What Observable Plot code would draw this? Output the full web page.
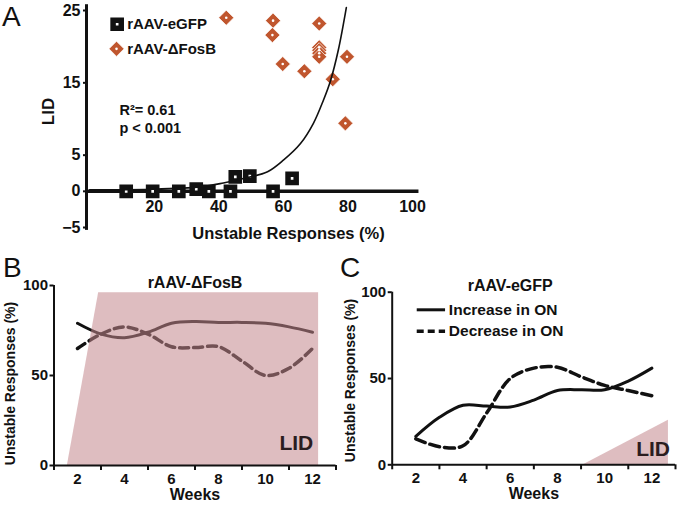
<!DOCTYPE html>
<html><head><meta charset="utf-8">
<script src="https://cdn.jsdelivr.net/npm/d3@7"></script>
<script src="https://cdn.jsdelivr.net/npm/@observablehq/plot@0.6"></script>
<style>
html,body{margin:0;padding:0;background:#fff;}
#fig{position:relative;width:677px;height:505px;overflow:hidden;font-family:"Liberation Sans",Arial,sans-serif;}
#fig svg{position:absolute;overflow:visible;}
.letter{position:absolute;font-size:28px;line-height:28px;color:#111;}
</style></head><body>
<div id="fig">
  <div class="letter" style="left:2px;top:3px">A</div>
  <div class="letter" style="left:3px;top:254px">B</div>
  <div class="letter" style="left:340px;top:254px">C</div>
</div>
<script>
// ---------- Panel A data ----------
const gfpX = [11.3, 19.5, 27.6, 33.0, 36.9, 43.6, 45.1, 49.6, 56.8, 62.7];
const gfpY = [0, 0, 0, 0.3, 0, 0, 2.0, 2.1, 0, 1.8];
const fosX = [42.3, 56.8, 56.6, 71.1, 71.1, 71.1, 71.1, 71.1, 59.8, 66.5, 75.3, 79.7, 79.2];
const fosY = [24.0, 23.6, 21.6, 23.2, 19.9, 19.5, 19.1, 18.6, 17.6, 16.6, 15.5, 18.6, 9.4];
const fitX = [0, 18.8, 34.3, 41.4, 48.9, 55.1, 60, 65.3, 69.3, 72.4, 74.6, 77, 79.5];
const fitY = [0.2, 0.28, 0.62, 1.15, 1.9, 2.7, 4.3, 6.6, 9.4, 12.6, 15.3, 19.5, 25.4];
const aXTicks = [20, 40, 60, 80, 100];
const aYTicks = [-5, 0, 5, 15, 25];
const groupNames = ["rAAV-eGFP", "rAAV-\u0394FosB"];
const statLines = ["R\u00B2= 0.61", "p < 0.001"];

// ---------- Panels B / C data ----------
const weeks = [2, 3, 4, 5, 6, 7, 8, 9, 10, 11, 12];
const evenWeeks = [2, 4, 6, 8, 10, 12];
const oddWeeks = [1, 3, 5, 7, 9, 11, 13];
const bIncrease = [79, 73, 71, 74, 79, 80, 79.5, 79.5, 79, 77, 74];
const bDecrease = [65, 73, 77, 73, 66, 65.5, 66, 58, 50, 54, 65];
const cIncrease = [16.5, 27.5, 34.5, 34, 33.5, 37.5, 43, 43.5, 43.5, 48.5, 56];
const cDecrease = [15, 10.5, 11, 30, 50, 56, 56.5, 51, 46, 43, 40];
const lidBWeeks = [1.57, 2.9, 12.26];
const lidBLevel = [0, 96, 96];
const lidCWeeks = [9.1, 12.7];
const lidCLevel = [0, 25.8];
const bcYTicks = [0, 50, 100];
const legendLabels = ["Increase in ON", "Decrease in ON"];

const FONT = '"Liberation Sans", Arial, sans-serif';
const ORANGE = "#c0562e";
const PINK = "#c3868c";
const style = {fontFamily: FONT, fontWeight: "bold", fontSize: "15px", background: "transparent", overflow: "visible", color: "#111"};

const gfp = gfpX.map((x, i) => ({x, y: gfpY[i]}));
const fos = fosX.map((x, i) => ({x, y: fosY[i]}));
const fit = fitX.map((x, i) => ({x, y: fitY[i]}));
const bRows = weeks.map((w, i) => ({week: w, inc: bIncrease[i], dec: bDecrease[i]}));
const cRows = weeks.map((w, i) => ({week: w, inc: cIncrease[i], dec: cDecrease[i]}));
const lidB = lidBWeeks.map((w, i) => ({week: w, v: lidBLevel[i]}));
const lidC = lidCWeeks.map((w, i) => ({week: w, v: lidCLevel[i]}));

const fig = document.getElementById("fig");
function place(svg, left, top) { svg.style.left = left + "px"; svg.style.top = top + "px"; fig.appendChild(svg); }
const mid = {textAnchor: "middle", lineAnchor: "middle"};

// ---------- Panel A ----------
const plotA = Plot.plot({
  width: 430, height: 245,
  marginLeft: 86, marginRight: 18, marginTop: 10, marginBottom: 18,
  x: {domain: [-1, 100], axis: null},
  y: {domain: [-5, 25]},
  style,
  marks: [
    Plot.axisY({ticks: aYTicks, tickSize: 3, tickPadding: 3, label: null, fontSize: 16, strokeWidth: 2}),
    Plot.ruleX([-1], {y1: -5.4, y2: 25.8, strokeWidth: 3, stroke: "#111"}),
    Plot.ruleY([0], {x1: -1, x2: 102, strokeWidth: 3.5, stroke: "#111"}),
    Plot.text(aXTicks, {x: d => d, y: 0, dy: 16, text: d => String(d), fontSize: 16}),
    Plot.dot(gfp, {x: "x", y: "y", symbol: "square", r: 4.6, fill: "white", stroke: "#111", strokeWidth: 5.5}),
    Plot.dot(fos, {x: "x", y: "y", symbol: "diamond2", r: 6.8, fill: ORANGE, stroke: "white", strokeWidth: 0.7}),
    Plot.dot(fos, {x: "x", y: "y", r: 1.3, fill: "white"}),
    Plot.line(fit, {x: "x", y: "y", curve: "catmull-rom", stroke: "#111", strokeWidth: 1.6}),
    // legend
    Plot.dot([groupNames[0]], {x: 8.5, y: 23.1, symbol: "square", r: 4.6, fill: "white", stroke: "#111", strokeWidth: 5.5}),
    Plot.dot([groupNames[1]], {x: 8.3, y: 19.7, symbol: "diamond2", r: 6.8, fill: ORANGE, stroke: "white", strokeWidth: 0.7}),
    Plot.dot([groupNames[1]], {x: 8.3, y: 19.7, r: 1.3, fill: "white"}),
    Plot.text([groupNames[0]], {x: 11.6, y: 23.1, text: d => d, textAnchor: "start", fontSize: 15}),
    Plot.text([groupNames[1]], {x: 11.6, y: 19.7, text: d => d, textAnchor: "start", fontSize: 15}),
    Plot.text([statLines[0]], {x: 9.2, y: 11.2, text: d => d, textAnchor: "start", fontSize: 14.5}),
    Plot.text([statLines[1]], {x: 9.2, y: 8.7, text: d => d, textAnchor: "start", fontSize: 14.5}),
    Plot.text(["LID"], {frameAnchor: "left", dx: -38, dy: -7.5, rotate: -90, text: d => d, fontSize: 17, ...mid}),
    Plot.text(["Unstable Responses (%)"], {frameAnchor: "bottom", dx: 39, dy: 6, text: d => d, fontSize: 16.5, ...mid})
  ]
});
place(plotA, 0, 0);

// ---------- Panel B ----------
const plotB = Plot.plot({
  width: 340, height: 240,
  marginLeft: 53.5, marginRight: 4.5, marginTop: 20, marginBottom: 40,
  x: {domain: [1, 13]},
  y: {domain: [0, 100]},
  style,
  marks: [
    Plot.line(bRows, {x: "week", y: "inc", curve: "catmull-rom", stroke: "#111", strokeWidth: 3}),
    Plot.line(bRows, {x: "week", y: "dec", curve: "catmull-rom", stroke: "#111", strokeWidth: 3.5, strokeDasharray: "9,5"}),
    Plot.areaY(lidB, {x: "week", y: "v", curve: "linear", fill: PINK, fillOpacity: 0.55}),
    Plot.axisY({ticks: bcYTicks, tickSize: 4, tickPadding: 2, label: null, fontSize: 15, strokeWidth: 2}),
    Plot.axisX({ticks: oddWeeks, tickSize: 5, tickFormat: () => "", label: null, strokeWidth: 2}),
    Plot.axisX({ticks: evenWeeks, tickSize: 0, tickPadding: 7.5, label: null, fontSize: 15}),
    Plot.ruleX([1], {y1: 0, y2: 100, strokeWidth: 2, stroke: "#111"}),
    Plot.ruleY([0], {x1: 1, x2: 13, strokeWidth: 2, stroke: "#111"}),
    Plot.text(["LID"], {x: 11.31, y: 12.5, text: d => d, fontSize: 21, fill: "#2b1d1f"}),
    Plot.text(["rAAV-\u0394FosB"], {x: 7, y: 100, dy: -2.5, text: d => d, fontSize: 16}),
    Plot.text(["Weeks"], {frameAnchor: "bottom", dy: 29.5, text: d => d, fontSize: 16, ...mid}),
    Plot.text(["Unstable Responses (%)"], {frameAnchor: "left", dx: -43.5, dy: 8, rotate: -90, text: d => d, fontSize: 14, ...mid})
  ]
});
place(plotB, 0, 265);

// ---------- Panel C ----------
const plotC = Plot.plot({
  width: 337, height: 240,
  marginLeft: 51.7, marginRight: 2, marginTop: 26.7, marginBottom: 40.7,
  x: {domain: [1, 13]},
  y: {domain: [0, 100]},
  style,
  marks: [
    Plot.areaY(lidC, {x: "week", y: "v", curve: "linear", fill: PINK, fillOpacity: 0.55}),
    Plot.line(cRows, {x: "week", y: "inc", curve: "catmull-rom", stroke: "#111", strokeWidth: 3}),
    Plot.line(cRows, {x: "week", y: "dec", curve: "catmull-rom", stroke: "#111", strokeWidth: 3.5, strokeDasharray: "10,5"}),
    Plot.axisY({ticks: bcYTicks, tickSize: 4, tickPadding: 2, label: null, fontSize: 15, strokeWidth: 2}),
    Plot.axisX({ticks: oddWeeks, tickSize: 5, tickFormat: () => "", label: null, strokeWidth: 2}),
    Plot.axisX({ticks: evenWeeks, tickSize: 0, tickPadding: 8, label: null, fontSize: 15}),
    Plot.ruleX([1], {y1: 0, y2: 100, strokeWidth: 2, stroke: "#111"}),
    Plot.ruleY([0], {x1: 1, x2: 13, strokeWidth: 2, stroke: "#111"}),
    Plot.text(["LID"], {x: 12.05, y: 9.2, text: d => d, fontSize: 21, fill: "#2b1d1f"}),
    Plot.text(["rAAV-eGFP"], {x: 6, y: 100, dy: -6.7, text: d => d, fontSize: 16}),
    // legend
    Plot.ruleY([89.8], {x1: 2.06, x2: 3.26, stroke: "#111", strokeWidth: 3}),
    Plot.ruleY([77.4], {x1: 2.06, x2: 3.26, stroke: "#111", strokeWidth: 3.5, strokeDasharray: "7,4"}),
    Plot.text([legendLabels[0]], {x: 3.4, y: 89.8, text: d => d, textAnchor: "start", fontSize: 15.5}),
    Plot.text([legendLabels[1]], {x: 3.4, y: 77.4, text: d => d, textAnchor: "start", fontSize: 15.5}),
    Plot.text(["Weeks"], {frameAnchor: "bottom", dy: 29, text: d => d, fontSize: 16, ...mid}),
    Plot.text(["Unstable Responses (%)"], {frameAnchor: "left", dx: -41.7, dy: 2, rotate: -90, text: d => d, fontSize: 14, ...mid})
  ]
});
place(plotC, 340, 265);
</script>
</body></html>
